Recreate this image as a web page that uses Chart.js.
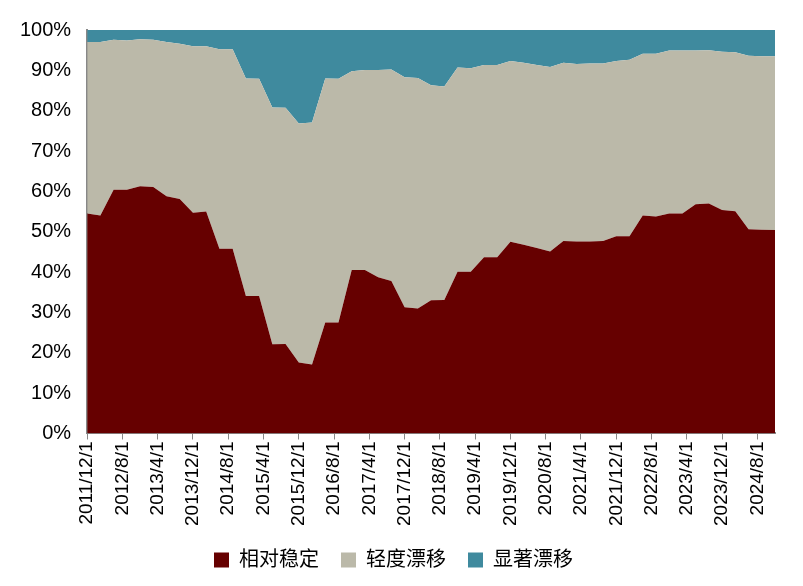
<!DOCTYPE html>
<html>
<head>
<meta charset="utf-8">
<script src="https://cdn.jsdelivr.net/npm/chart.js@4"></script>
<style>
  body { margin: 0; background: #fff; }
  #wrap { width: 803px; height: 586px; }
</style>
</head>
<body>
<div id="wrap"><canvas id="chart"></canvas></div>
<script>
// quarterly points, months since 2011/12/1
const months = [];
for (let i = 0; i <= 52; i++) months.push(i * 3);

const stable = [54.5,54,60.4,60.4,61.3,61.1,58.8,58.1,54.7,55,45.8,45.8,34.1,34.1,22.1,22.2,17.6,17.1,27.5,27.5,
  40.5,40.5,38.7,37.8,31.3,31,33,33.1,40.1,40.1,43.7,43.7,47.5,46.8,46,45.1,47.7,47.6,47.6,47.7,
  48.9,48.9,54,53.8,54.5,54.5,56.8,57,55.4,55.1,50.6,50.5,50.4];
const slight = [42.5,43,37.2,37,36.4,36.5,38.2,38.5,41.3,41,49.4,49.4,53.9,53.8,58.7,58.5,59.2,60,60.5,60.4,
  49.3,49.6,51.4,52.4,57,57.1,53.3,52.9,50.6,50.4,47.6,47.6,44.8,45.1,45.3,45.7,44.2,44,44.1,44,
  43.4,43.7,40.1,40.3,40.4,40.4,38.1,38,39.2,39.4,43,43,43.1];
const significant = [3,3,2.4,2.6,2.3,2.4,3,3.4,4,4,4.8,4.8,12,12.1,19.2,19.3,23.2,22.9,12,12.1,
  10.2,9.9,9.9,9.8,11.7,11.9,13.7,14,9.3,9.5,8.7,8.7,7.7,8.1,8.7,9.2,8.1,8.4,8.3,8.3,
  7.7,7.4,5.9,5.9,5.1,5.1,5.1,5,5.4,5.5,6.4,6.5,6.5];

function pts(arr) {
  return arr.map((v, i) => ({ x: months[i], y: v }));
}
function monthLabel(m) {
  const y = 2011 + Math.floor((11 + m) / 12);
  const mo = ((11 + m) % 12) + 1;
  return y + "/" + mo + "/1";
}

const fam = "Arial, 'Liberation Sans', 'Noto Sans CJK SC'";
Chart.defaults.color = "#000";

new Chart(document.getElementById("chart"), {
  type: "line",
  data: {
    datasets: [
      { label: "相对稳定", data: pts(stable), backgroundColor: "#660000", fill: "origin" },
      { label: "轻度漂移", data: pts(slight), backgroundColor: "#BBB9A9", fill: "-1" },
      { label: "显著漂移", data: pts(significant), backgroundColor: "#3F8A9E", fill: "-1" }
    ]
  },
  options: {
    responsive: true,
    maintainAspectRatio: false,
    animation: false,
    elements: { point: { radius: 0 }, line: { borderWidth: 0, tension: 0 } },
    layout: { padding: { left: 12, right: 28, top: 30, bottom: 6 } },
    plugins: {
      legend: {
        position: "bottom",
        labels: { font: { family: fam, size: 20 }, boxWidth: 15, boxHeight: 15, padding: 22 }
      },
      tooltip: { enabled: false }
    },
    scales: {
      x: {
        type: "linear",
        min: 0,
        max: 156,
        afterBuildTicks: (axis) => {
          const t = [];
          for (let m = 0; m <= 152; m += 8) t.push({ value: m });
          axis.ticks = t;
        },
        ticks: {
          font: { family: fam, size: 19 },
          maxRotation: 90, minRotation: 90,
          padding: 2,
          callback: (v) => monthLabel(v)
        },
        grid: { display: true, drawOnChartArea: false, tickLength: 6, color: "#888" },
        border: { color: "#888", width: 2 }
      },
      y: {
        stacked: true,
        min: 0,
        max: 100,
        ticks: { stepSize: 10, font: { family: fam, size: 20 }, padding: 8, callback: (v) => v + "%" },
        grid: { display: false },
        border: { color: "#888", width: 2 }
      }
    }
  }
});
</script>
</body>
</html>
